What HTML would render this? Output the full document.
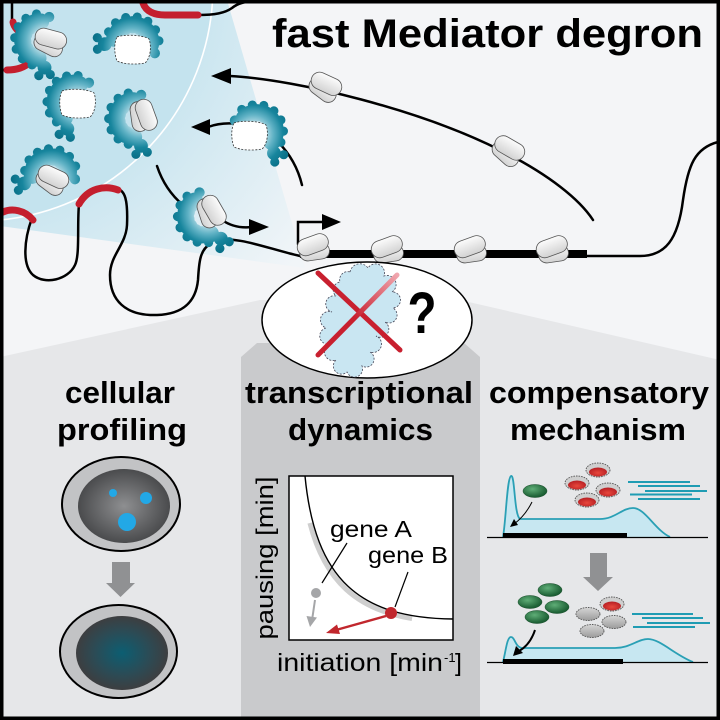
<!DOCTYPE html>
<html><head><meta charset="utf-8"><style>html,body{margin:0;padding:0;background:#fff}svg{display:block}</style></head>
<body>
<svg width="720" height="720" viewBox="0 0 720 720" xmlns="http://www.w3.org/2000/svg" xmlns:xlink="http://www.w3.org/1999/xlink" font-family="'Liberation Sans', sans-serif">
<defs>
 <radialGradient id="wedge" gradientUnits="userSpaceOnUse" cx="-22" cy="-14" r="420">
  <stop offset="0.55" stop-color="#cbe6f0"/><stop offset="1" stop-color="#f1f5f8"/>
 </radialGradient>
 <linearGradient id="pg" x1="0" y1="0" x2="0" y2="1"><stop offset="0" stop-color="#fcfcfc"/><stop offset="1" stop-color="#d2d2d2"/></linearGradient>
 <radialGradient id="mg" gradientUnits="userSpaceOnUse" cx="0" cy="-2" r="34">
  <stop offset="0.25" stop-color="#c4e3ec"/><stop offset="0.5" stop-color="#62b3c6"/><stop offset="0.75" stop-color="#17859d"/><stop offset="1" stop-color="#0a7189"/>
 </radialGradient>
 <radialGradient id="n1" cx="0.5" cy="0.5" r="0.5"><stop offset="0" stop-color="#8e8f91"/><stop offset="1" stop-color="#4a4b4d"/></radialGradient>
 <radialGradient id="n2" cx="0.5" cy="0.5" r="0.5"><stop offset="0" stop-color="#0c5e72"/><stop offset="0.6" stop-color="#2c4b55"/><stop offset="1" stop-color="#3d3e40"/></radialGradient>
 <radialGradient id="gr" cx="0.4" cy="0.35" r="0.6"><stop offset="0" stop-color="#5fae77"/><stop offset="1" stop-color="#1c5f34"/></radialGradient>
 <radialGradient id="rd" cx="0.5" cy="0.6" r="0.6"><stop offset="0" stop-color="#e8473c"/><stop offset="1" stop-color="#b51e23"/></radialGradient>
 <linearGradient id="gy" x1="0" y1="0" x2="0" y2="1"><stop offset="0" stop-color="#d6d6d6"/><stop offset="1" stop-color="#9c9c9c"/></linearGradient>
 <linearGradient id="xg" gradientUnits="userSpaceOnUse" x1="397" y1="275" x2="355" y2="318"><stop offset="0" stop-color="#f0a6ae"/><stop offset="1" stop-color="#c8202f"/></linearGradient>
 <clipPath id="chartclip"><rect x="289" y="476" width="164" height="164"/></clipPath>

 <g id="pol">
  <rect x="-15" y="-4" width="30" height="16" rx="8" fill="url(#pg)" stroke="#555" stroke-width="0.8" transform="rotate(-8)"/>
  <rect x="-16" y="-12" width="32" height="17" rx="8.5" fill="url(#pg)" stroke="#555" stroke-width="0.8" transform="rotate(-20)"/>
 </g>
 <g id="med" fill="url(#mg)">
  <circle cx="-15.8" cy="-8.8" r="7.5"/><circle cx="-13.1" cy="-15.2" r="7.5"/><circle cx="-8" cy="-19.9" r="7.5"/>
  <circle cx="-1.4" cy="-21.9" r="7.5"/><circle cx="5.5" cy="-21" r="7.5"/><circle cx="11.3" cy="-17.3" r="7.5"/>
  <circle cx="15" cy="-11.5" r="7.5"/><circle cx="16" cy="-6" r="7"/>
  <circle cx="-21.6" cy="-13.9" r="4"/><circle cx="-16.3" cy="-22.3" r="4"/><circle cx="-7.9" cy="-27.6" r="4"/>
  <circle cx="2" cy="-28.9" r="4"/><circle cx="11.5" cy="-26" r="4"/><circle cx="18.8" cy="-19.2" r="4"/>
  <circle cx="22.6" cy="-10" r="4"/>
  <circle cx="-24" cy="-3" r="6"/><circle cx="-30" cy="2" r="4"/><circle cx="-31" cy="-8" r="4"/>
  <circle cx="20" cy="1" r="4.5"/>
 </g>
 <path id="dash" d="M-16,-12 C-8,-15 10,-14 16,-10 C19,-2 17,10 12,14 C2,16 -10,15 -16,12 C-19,4 -19,-6 -16,-12Z" fill="#fff" stroke="#333" stroke-width="0.8" stroke-dasharray="2 1.5"/>
 <g id="cup">
  <ellipse cx="0" cy="0" rx="12" ry="7" fill="#cfcfcf" stroke="#555" stroke-width="0.9" stroke-dasharray="1.6 1"/>
  <ellipse cx="0" cy="2" rx="9" ry="4.5" fill="url(#rd)"/>
 </g>
 <ellipse id="grn" cx="0" cy="0" rx="12" ry="6.5" fill="url(#gr)" stroke="#1a4d2b" stroke-width="0.5"/>
 <ellipse id="gry" cx="0" cy="0" rx="12" ry="6.5" fill="url(#gy)" stroke="#555" stroke-width="0.9" stroke-dasharray="1.6 1"/>
</defs>

<!-- backgrounds -->
<rect width="720" height="720" fill="#f4f5f7"/>
<polygon points="0,0 227,0 305,268 0,226" fill="url(#wedge)"/>
<circle cx="-22" cy="-14" r="235" fill="#c4e3ee" stroke="#ffffff" stroke-width="1.6"/>
<polygon points="0,357 260,300 460,300 720,360 720,720 0,720" fill="#e6e7e9"/>
<polygon points="241,357 257,343 464,343 480,357 480,720 241,720" fill="#c9cacc"/>

<!-- DNA -->
<g fill="none" stroke="#000" stroke-width="2.5" stroke-linecap="round">
 <path d="M12,0 L12,22"/>
 <path d="M7,70 L0,70"/>
 <path d="M198,15 C215,15 225,13 232,8 C238,3 245,2 252,1"/>
 <path d="M230,76 C300,80 420,110 500,150 C550,175 580,200 593,220"/>
 <path d="M208,127 Q222,122 238,124"/>
 <path d="M278,142 Q296,160 302,185"/>
 <path d="M157,166 Q165,190 183,205"/>
 <path d="M222,220 Q235,229 252,227"/>
 <path d="M210,240 C240,236 265,248 300,256"/>
 <path d="M117,189 C125,190 128,200 127,225 C126,245 110,255 110,275 C110,300 125,316 157,315 C185,314 196,300 198,280 C199,262 200,250 210,244"/>
 <path d="M79,204 C77,225 80,255 75,265 C68,280 45,285 33,275 C22,265 24,240 32,218"/>
 <path d="M587,256 L640,256 C665,256 678,240 683,200 C688,165 695,148 718,142"/>
 <path d="M298,244 L298,222 L324,222"/>
</g>
<rect x="300" y="250" width="287" height="8" fill="#000"/>
<polygon points="211,76 231,68 231,84" fill="#000"/>
<polygon points="191,127 210,119 210,135" fill="#000"/>
<polygon points="269,227 249,219 249,235" fill="#000"/>
<polygon points="341,222 322,214 322,230" fill="#000"/>
<g fill="none" stroke="#c41f2e" stroke-width="7" stroke-linecap="round">
 <path d="M143,3 C146,12 155,15 165,15 L198,15"/>
 <path d="M118,190 C105,185 88,188 79,204"/>
 <path d="M33,220 C25,210 12,208 3,212"/>
 <path d="M13,22 C14,28 20,33 26,38"/>
 <path d="M30,62 C24,68 15,70 7,70"/>
</g>

<!-- mediators -->
<use xlink:href="#med" transform="translate(48,40) rotate(-90) scale(1.15)"/>
<use xlink:href="#pol" transform="translate(50,42) rotate(35)"/>
<use xlink:href="#med" transform="translate(132,50) rotate(5) scale(1.15)"/>
<use xlink:href="#dash" transform="translate(133,49)"/>
<use xlink:href="#med" transform="translate(80,104) rotate(-70) scale(1.15)"/>
<use xlink:href="#dash" transform="translate(78,103)"/>
<use xlink:href="#med" transform="translate(142,118) rotate(-95) scale(1.15)"/>
<use xlink:href="#pol" transform="translate(143,116) rotate(90)"/>
<use xlink:href="#med" transform="translate(52,182) rotate(-10) scale(1.15)"/>
<use xlink:href="#pol" transform="translate(52,180) rotate(45)"/>
<use xlink:href="#med" transform="translate(252,136) rotate(45) scale(-1.15,1.15)"/>
<use xlink:href="#dash" transform="translate(250,135)"/>
<use xlink:href="#med" transform="translate(210,213) rotate(-120) scale(1.15)"/>
<use xlink:href="#pol" transform="translate(211,212) rotate(80)"/>

<!-- Pol II on genes -->
<use xlink:href="#pol" transform="translate(325,87) rotate(45)"/>
<use xlink:href="#pol" transform="translate(508,151) rotate(50)"/>
<use xlink:href="#pol" transform="translate(314,248)"/>
<use xlink:href="#pol" transform="translate(388,250)"/>
<use xlink:href="#pol" transform="translate(471,250)"/>
<use xlink:href="#pol" transform="translate(553,250)"/>

<!-- title -->
<text x="272" y="47" font-size="40" font-weight="bold" textLength="431" lengthAdjust="spacingAndGlyphs" fill="#000">fast Mediator degron</text>

<!-- center ellipse -->
<ellipse cx="367" cy="320" rx="105" ry="58" fill="#fff" stroke="#000" stroke-width="1.5"/>
<path d="M350,272 A10,10 0 0 1 368,268 A9,9 0 0 1 384,276 A9,9 0 0 1 392,292 A8,8 0 0 1 393,308 A8,8 0 0 1 385,322 A8,8 0 0 1 376,336 A8,8 0 0 1 370,352 A8,8 0 0 1 362,366 A8,8 0 0 1 347,372 A8,8 0 0 1 336,360 A8,8 0 0 1 330,344 A8,8 0 0 1 326,328 A8,8 0 0 1 332,312 A8,8 0 0 1 336,296 A8,8 0 0 1 340,282 A8,8 0 0 1 350,272 Z" fill="#c9e6f2" stroke="#445" stroke-width="0.8" stroke-dasharray="2 1.5"/>
<line x1="318" y1="273" x2="400" y2="350" stroke="#c8202f" stroke-width="5" stroke-linecap="round"/>
<line x1="397" y1="275" x2="318" y2="355" stroke="url(#xg)" stroke-width="5" stroke-linecap="round"/>
<text x="0" y="0" font-size="58" font-weight="bold" text-anchor="middle" transform="translate(422,333) scale(0.82,1)">?</text>

<!-- labels -->
<g font-size="31" font-weight="bold" fill="#000">
 <text x="65" y="403" textLength="110" lengthAdjust="spacingAndGlyphs">cellular</text>
 <text x="57" y="440" textLength="130" lengthAdjust="spacingAndGlyphs">profiling</text>
 <text x="245" y="403" textLength="228" lengthAdjust="spacingAndGlyphs">transcriptional</text>
 <text x="288" y="440" textLength="145" lengthAdjust="spacingAndGlyphs">dynamics</text>
 <text x="489" y="403" textLength="220" lengthAdjust="spacingAndGlyphs">compensatory</text>
 <text x="510" y="440" textLength="176" lengthAdjust="spacingAndGlyphs">mechanism</text>
</g>

<!-- cellular profiling -->
<ellipse cx="121" cy="504" rx="59" ry="47" fill="#c2c3c5" stroke="#000" stroke-width="2"/>
<ellipse cx="124" cy="506" rx="46" ry="37" fill="url(#n1)"/>
<circle cx="113" cy="493" r="4" fill="#22a8e6"/>
<circle cx="146" cy="498" r="6" fill="#22a8e6"/>
<circle cx="127" cy="522" r="9" fill="#22a8e6"/>
<polygon points="112,562 130,562 130,583 135,583 120.5,597 106,583 112,583" fill="#909193"/>
<ellipse cx="118.5" cy="651.5" rx="58.5" ry="46.5" fill="#c2c3c5" stroke="#000" stroke-width="2"/>
<ellipse cx="122" cy="653" rx="46" ry="37" fill="url(#n2)"/>

<!-- chart -->
<rect x="289" y="476" width="164" height="164" fill="#fff" stroke="#000" stroke-width="1.5"/>
<path d="M305,476 C315,580 360,618 453,619" fill="none" stroke="#cfcfcf" stroke-width="5" transform="translate(-2.5,2.5)" stroke-dasharray="0 45 150 1000" clip-path="url(#chartclip)"/>
<path d="M305,476 C315,580 360,618 453,619" fill="none" stroke="#000" stroke-width="1.4"/>
<g font-size="23" fill="#000">
 <text x="330" y="537" textLength="82" lengthAdjust="spacingAndGlyphs">gene A</text>
 <text x="368" y="563" textLength="80" lengthAdjust="spacingAndGlyphs">gene B</text>
</g>
<line x1="347" y1="543" x2="322" y2="583" stroke="#000" stroke-width="1.2"/>
<line x1="408" y1="572" x2="395" y2="607" stroke="#000" stroke-width="1.2"/>
<circle cx="316" cy="593" r="5" fill="#a5a6a8"/>
<line x1="315" y1="600" x2="312.5" y2="617" stroke="#a5a6a8" stroke-width="2"/>
<polygon points="310,627 306.5,616 317,617.5" fill="#a5a6a8"/>
<line x1="386" y1="616" x2="336" y2="630" stroke="#c1272d" stroke-width="2.4"/>
<polygon points="326,633 337,624.5 340,634" fill="#c1272d"/>
<circle cx="391" cy="613" r="6" fill="#c1272d"/>
<text x="0" y="0" font-size="24" text-anchor="middle" textLength="163" lengthAdjust="spacingAndGlyphs" transform="translate(273,558) rotate(-90)">pausing [min]</text>
<text x="277" y="671" font-size="25" textLength="166" lengthAdjust="spacingAndGlyphs">initiation [min</text>
<text x="444" y="662" font-size="13">-1</text>
<text x="455" y="671" font-size="25">]</text>

<!-- compensatory -->
<path d="M503,537 C506,520 507,478 511,476 C515,474 514,515 520,519 L600,519 C615,519 622,508 633,508 C645,508 655,530 670,537 Z" fill="#c7e7f1"/>
<path d="M503,537 C506,520 507,478 511,476 C515,474 514,515 520,519 L600,519 C615,519 622,508 633,508 C645,508 655,530 670,537" fill="none" stroke="#2aa0b5" stroke-width="1.8"/>
<line x1="487" y1="537.5" x2="708" y2="537.5" stroke="#000" stroke-width="1.2"/>
<rect x="503" y="533" width="124" height="5" fill="#000"/>
<use xlink:href="#grn" transform="translate(535,491)"/>
<path d="M532,502 Q525,516 514,524" fill="none" stroke="#000" stroke-width="1"/>
<polygon points="510,527 514,519 518,525" fill="#000"/>
<use xlink:href="#cup" transform="translate(598,470)"/>
<use xlink:href="#cup" transform="translate(577,483)"/>
<use xlink:href="#cup" transform="translate(608,490)"/>
<use xlink:href="#cup" transform="translate(587,500)"/>
<g stroke="#1f9cb3" stroke-width="2">
 <line x1="628" y1="482" x2="690" y2="482"/><line x1="638" y1="486" x2="700" y2="486"/>
 <line x1="645" y1="491" x2="707" y2="491"/><line x1="630" y1="494.5" x2="692" y2="494.5"/>
 <line x1="638" y1="499" x2="700" y2="499"/>
</g>
<polygon points="590,553 607,553 607,577 613,577 598,591 583,577 590,577" fill="#909193"/>

<path d="M503,662 C506,650 507,637 511,637 C515,637 515,647 522,648 L615,648 C630,648 638,639 648,639 C660,639 675,655 693,662 Z" fill="#c7e7f1"/>
<path d="M503,662 C506,650 507,637 511,637 C515,637 515,647 522,648 L615,648 C630,648 638,639 648,639 C660,639 675,655 693,662" fill="none" stroke="#2aa0b5" stroke-width="1.8"/>
<line x1="487" y1="662.5" x2="708" y2="662.5" stroke="#000" stroke-width="1.2"/>
<rect x="503" y="659" width="120" height="5" fill="#000"/>
<use xlink:href="#grn" transform="translate(550,590)"/>
<use xlink:href="#grn" transform="translate(530,602)"/>
<use xlink:href="#grn" transform="translate(557,607)"/>
<use xlink:href="#grn" transform="translate(537,617)"/>
<path d="M535,630 Q530,645 519,651" fill="none" stroke="#000" stroke-width="2"/>
<polygon points="513,656 516,646 523,653" fill="#000"/>
<use xlink:href="#cup" transform="translate(612,604)"/>
<use xlink:href="#gry" transform="translate(588,614)"/>
<use xlink:href="#gry" transform="translate(614,622)"/>
<use xlink:href="#gry" transform="translate(592,631)"/>
<g stroke="#1f9cb3" stroke-width="2">
 <line x1="632" y1="614" x2="693" y2="614"/><line x1="642" y1="618" x2="703" y2="618"/>
 <line x1="647" y1="623" x2="710" y2="623"/><line x1="633" y1="627" x2="695" y2="627"/>
</g>

<!-- frame -->
<rect x="1.75" y="1.75" width="716.5" height="716.5" fill="none" stroke="#000" stroke-width="3.5"/>
</svg>
</body></html>
